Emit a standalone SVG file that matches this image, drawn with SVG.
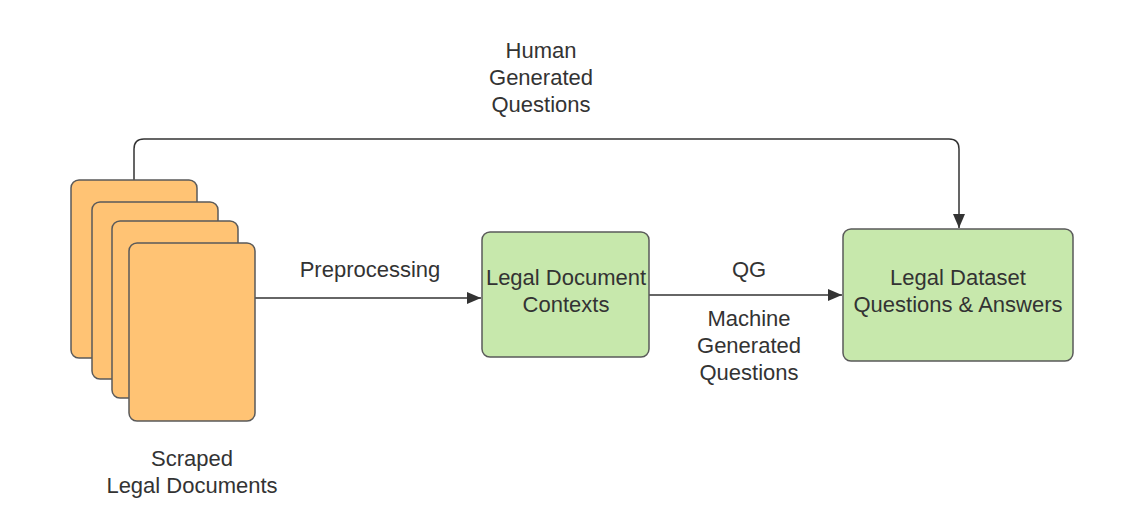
<svg xmlns="http://www.w3.org/2000/svg" width="1133" height="517" viewBox="0 0 1133 517">
<style>
.card{fill:#FFC374;stroke:#5a5a5a;stroke-width:1.5}
.box{fill:#C7E8AC;stroke:#5a5a5a;stroke-width:1.5}
.t{font-family:"Liberation Sans",Arial,sans-serif;font-size:22px;fill:#333333;text-anchor:middle}
.c{fill:none;stroke:#333333;stroke-width:1.5}
</style>
<defs>
<marker id="ah" markerWidth="14" markerHeight="12" refX="14" refY="6" orient="auto" markerUnits="userSpaceOnUse">
<path d="M0,0 L14,6 L0,12 z" fill="#333333"/>
</marker>
</defs>
<rect width="1133" height="517" fill="#ffffff"/>
<g id="connectors">
<path class="c" d="M134,180 V149 Q134,139 144,139 H949 Q959,139 959,149 V228" marker-end="url(#ah)"/>
<path class="c" d="M255,298 H481" marker-end="url(#ah)"/>
<path class="c" d="M649,295 H842" marker-end="url(#ah)"/>
</g>
<g id="scraped-docs">
<rect class="card" x="71" y="180" width="126" height="178" rx="8"/>
<rect class="card" x="92" y="202" width="126" height="177" rx="8"/>
<rect class="card" x="112" y="221" width="126" height="177" rx="8"/>
<rect class="card" x="129" y="243" width="126" height="178" rx="8"/>
<text class="t" x="192" y="466">Scraped</text>
<text class="t" x="192" y="493">Legal Documents</text>
</g>
<g id="contexts">
<rect class="box" x="482" y="232" width="167" height="125" rx="8"/>
<text class="t" x="566" y="285">Legal Document</text>
<text class="t" x="566" y="312">Contexts</text>
</g>
<g id="dataset">
<rect class="box" x="843" y="229" width="230" height="132" rx="8"/>
<text class="t" x="958" y="285">Legal Dataset</text>
<text class="t" x="958" y="312">Questions &amp; Answers</text>
</g>
<g id="labels">
<text class="t" x="541" y="58">Human</text>
<text class="t" x="541" y="85">Generated</text>
<text class="t" x="541" y="112">Questions</text>
<text class="t" x="370" y="277">Preprocessing</text>
<text class="t" x="749" y="277">QG</text>
<text class="t" x="749" y="326">Machine</text>
<text class="t" x="749" y="353">Generated</text>
<text class="t" x="749" y="380">Questions</text>
</g>
</svg>
